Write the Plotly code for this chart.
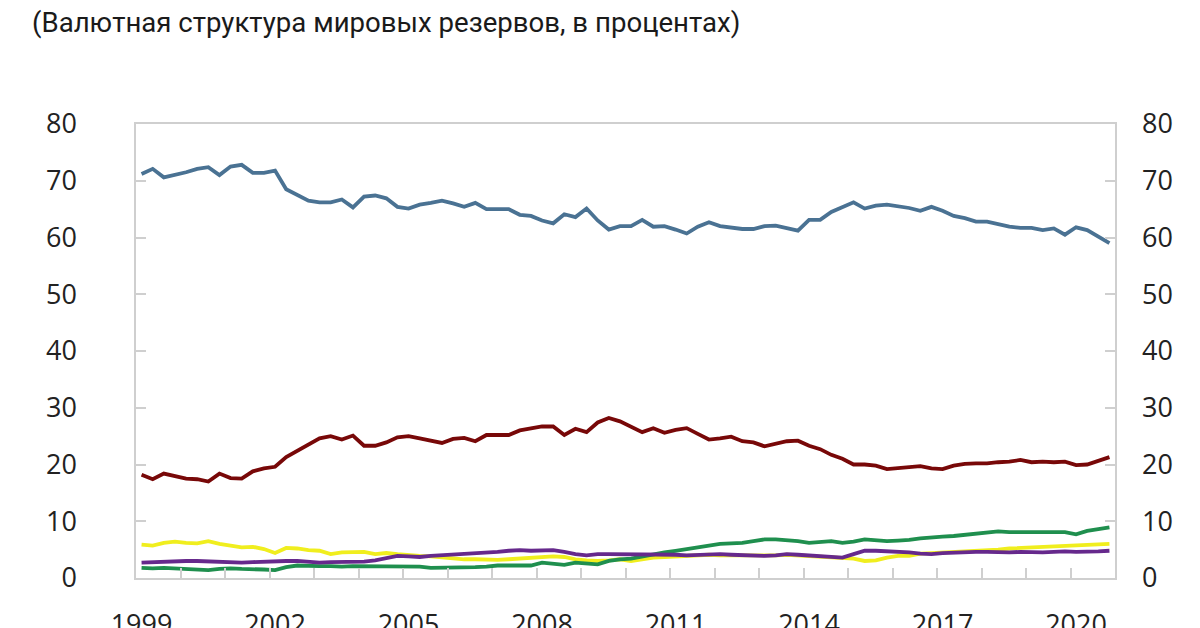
import plotly.graph_objects as go

years = list(range(1999, 2021))
quarters = [f"{y}Q{q}" for y in years for q in range(1, 5)]

usd = [71.2, 72.1, 70.6, 71.0, 71.5, 72.1, 72.4, 71.0, 72.5, 72.8,
       71.4, 71.4, 71.8, 68.5, 67.5, 66.5, 66.2, 66.2, 66.7, 65.3,
       67.2, 67.4, 66.9, 65.4, 65.1, 65.8, 66.1, 66.5, 66.0, 65.4,
       66.1, 65.0, 65.0, 65.0, 64.0, 63.8, 63.0, 62.5, 64.1, 63.6,
       65.1, 63.0, 61.4, 62.0, 62.0, 63.1, 61.9, 62.0, 61.4, 60.7,
       61.9, 62.7, 62.0, 61.7, 61.5, 61.5, 62.0, 62.1, 61.7, 61.2,
       63.1, 63.1, 64.5, 65.3, 66.2, 65.1, 65.6, 65.8, 65.5, 65.2,
       64.7, 65.4, 64.7, 63.8, 63.4, 62.8, 62.8, 62.3, 61.9, 61.7,
       61.7, 61.3, 61.6, 60.5, 61.8, 61.3, 60.2, 59.0]

eur = [18.2, 17.4, 18.4, 18.0, 17.5, 17.4, 17.0, 18.4, 17.6, 17.5,
       18.8, 19.3, 19.6, 21.3, 22.4, 23.6, 24.6, 25.0, 24.4, 25.1,
       23.3, 23.3, 23.9, 24.8, 25.0, 24.6, 24.2, 23.8, 24.5, 24.7,
       24.1, 25.2, 25.2, 25.2, 26.0, 26.3, 26.7, 26.7, 25.2, 26.3,
       25.7, 27.4, 28.2, 27.6, 26.7, 25.7, 26.4, 25.6, 26.1, 26.4,
       25.4, 24.4, 24.6, 24.9, 24.1, 23.9, 23.2, 23.7, 24.1, 24.2,
       23.3, 22.7, 21.7, 21.0, 20.0, 20.0, 19.8, 19.2, 19.4, 19.5,
       19.7, 19.3, 19.2, 19.8, 20.1, 20.2, 20.2, 20.4, 20.5, 20.8,
       20.4, 20.5, 20.4, 20.5, 19.9, 20.0, 20.7, 21.3]

jpy = [5.9, 5.7, 6.2, 6.4, 6.2, 6.1, 6.5, 6.0, 5.7, 5.4,
       5.5, 5.1, 4.4, 5.3, 5.2, 4.9, 4.8, 4.2, 4.5, 4.6,
       4.6, 4.2, 4.4, 4.2, 4.0, 3.9, 3.8, 3.6, 3.4, 3.3,
       3.3, 3.2, 3.2, 3.3, 3.4, 3.5, 3.7, 3.8, 3.7, 3.3,
       3.1, 3.0, 3.1, 3.3, 3.0, 3.3, 3.6, 3.7, 3.8, 3.9,
       4.0, 4.1, 4.0, 4.0, 3.9, 4.0, 3.9, 4.0, 4.1, 4.0,
       3.9, 3.8, 3.7, 3.6, 3.4, 3.0, 3.1, 3.6, 3.9, 3.9,
       4.3, 4.4, 4.5, 4.6, 4.6, 4.7, 4.8, 5.0, 5.2, 5.3,
       5.4, 5.5, 5.6, 5.7, 5.8, 5.9, 5.9, 6.0]

gbp = [2.7, 2.8, 2.8, 2.9, 3.0, 3.0, 2.9, 2.8, 2.7, 2.7,
       2.8, 2.9, 2.9, 3.0, 3.0, 2.8, 2.7, 2.8, 2.8, 2.8,
       2.9, 3.1, 3.5, 3.9, 3.8, 3.7, 3.9, 4.0, 4.2, 4.3,
       4.4, 4.5, 4.6, 4.8, 4.9, 4.8, 4.9, 4.9, 4.6, 4.2,
       4.0, 4.2, 4.2, 4.2, 4.2, 4.2, 4.1, 4.1, 4.1, 4.0,
       4.1, 4.2, 4.2, 4.1, 4.0, 4.0, 3.9, 4.0, 4.2, 4.1,
       4.0, 3.9, 3.7, 3.6, 4.2, 4.8, 4.8, 4.7, 4.7, 4.5,
       4.3, 4.2, 4.4, 4.5, 4.5, 4.6, 4.6, 4.5, 4.5, 4.6,
       4.5, 4.5, 4.6, 4.7, 4.6, 4.6, 4.7, 4.8]

other = [1.8, 1.7, 1.8, 1.7, 1.7, 1.6, 1.4, 1.6, 1.7, 1.6,
         1.6, 1.5, 1.4, 1.9, 2.2, 2.1, 2.1, 2.1, 2.0, 2.1,
         2.1, 2.1, 2.1, 2.1, 2.0, 2.0, 1.8, 1.8, 1.8, 1.8,
         1.9, 2.0, 2.2, 2.2, 2.2, 2.2, 2.7, 2.5, 2.3, 2.7,
         2.5, 2.4, 3.0, 3.3, 3.4, 3.8, 4.2, 4.5, 4.8, 5.1,
         5.4, 5.7, 6.0, 6.1, 6.2, 6.5, 6.8, 6.8, 6.7, 6.5,
         6.2, 6.4, 6.5, 6.2, 6.4, 6.8, 6.6, 6.5, 6.6, 6.7,
         7.0, 7.2, 7.3, 7.4, 7.6, 7.8, 8.0, 8.2, 8.1, 8.1,
         8.1, 8.1, 8.1, 8.1, 7.7, 8.3, 8.6, 8.9]

label_years = [1999, 2002, 2005, 2008, 2011, 2014, 2017, 2020]
y_ticks = [0, 10, 20, 30, 40, 50, 60, 70, 80]

title_text = "(Валютная структура мировых резервов, в процентах)"

x = list(range(len(quarters)))
label_pos = [quarters.index(f"{y}Q1") for y in label_years]
boundary_pos = [quarters.index(f"{y}Q1") - 0.5 for y in years[1:]]

series = [
    ("JPY", jpy, "#f0ee1e"),
    ("Other", other, "#1f8f4e"),
    ("GBP", gbp, "#66298c"),
    ("EUR", eur, "#780808"),
    ("USD", usd, "#4a7293"),
]

fig = go.Figure()
for name, vals, col in series:
    fig.add_trace(go.Scatter(x=x, y=vals, mode="lines", name=name,
                             line=dict(color=col, width=3.8)))

frame = "#cfcfcf"
tickfont = dict(family="Open Sans", size=27, color="#222222")

fig.update_layout(
    width=1200, height=628,
    margin=dict(l=136, r=85, t=124, b=50, autoexpand=False),
    paper_bgcolor="white", plot_bgcolor="white",
    showlegend=False,
    xaxis=dict(range=[-0.5, len(quarters) - 0.5], tickvals=label_pos,
               ticktext=[str(y) for y in label_years], ticks="",
               showgrid=False, zeroline=False, showline=True, mirror=True,
               linecolor=frame, linewidth=1.5, tickfont=tickfont,
               ticklabelstandoff=22, automargin=False),
    xaxis2=dict(range=[-0.5, len(quarters) - 0.5], overlaying="x", side="bottom",
                anchor="y", tickvals=boundary_pos, ticks="inside", ticklen=10,
                tickcolor=frame, tickwidth=1.5, showticklabels=False,
                showgrid=False, zeroline=False, showline=False, automargin=False),
    yaxis=dict(range=[0, 80], tickvals=y_ticks, ticks="inside", ticklen=10,
               tickcolor=frame, tickwidth=1.5, showgrid=False, zeroline=False,
               showline=True, mirror="ticks", linecolor=frame, linewidth=1.5,
               tickfont=tickfont, ticklabelstandoff=52, automargin=False),
    yaxis2=dict(range=[0, 80], tickvals=y_ticks, overlaying="y", side="right",
                anchor="x", ticks="", showgrid=False, zeroline=False,
                showline=False, tickfont=tickfont, ticklabelstandoff=26,
                automargin=False),
)
# invisible trace to activate secondary axes
fig.add_trace(go.Scatter(x=[x[0]], y=[usd[0]], xaxis="x2", yaxis="y2",
                         mode="markers", marker=dict(opacity=0),
                         hoverinfo="skip", showlegend=False))

fig.add_annotation(text=title_text, xref="paper", yref="paper",
                   x=0, y=1, xshift=-106, yshift=102,
                   xanchor="left", yanchor="middle", showarrow=False,
                   font=dict(family="Roboto", size=27.6, color="#1a1a1a"))

fig.write_html("out.html")
